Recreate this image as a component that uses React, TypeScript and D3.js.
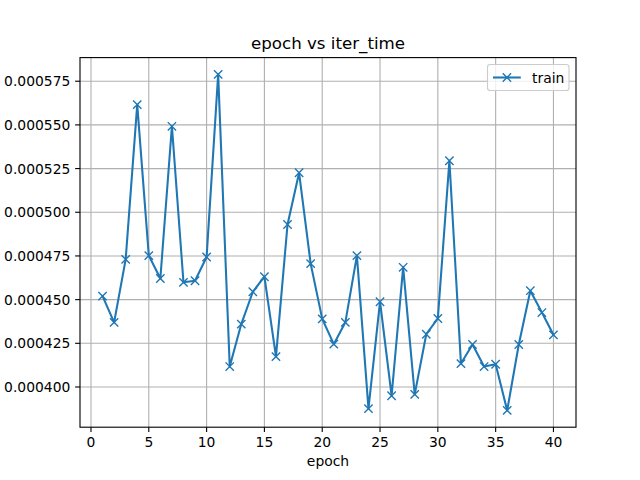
import React from "react";
import * as d3 from "d3";

const epochs: number[] = Array.from({ length: 40 }, (_, i) => i + 1);
const iterTime: number[] = [
  0.000452, 0.000437, 0.000473, 0.0005616, 0.0004752, 0.0004621, 0.0005492, 0.0004599,
  0.0004608, 0.0004744, 0.0005789, 0.0004117, 0.000436, 0.0004545, 0.0004631, 0.0004174,
  0.000493, 0.0005226, 0.0004706, 0.000439, 0.0004245, 0.000437, 0.0004752, 0.0003876,
  0.0004488, 0.000395, 0.0004685, 0.0003958, 0.0004302, 0.0004392, 0.0005295, 0.0004134,
  0.0004243, 0.0004117, 0.000413, 0.0003866, 0.0004243, 0.0004551, 0.0004426, 0.0004298,
];
const xTicks: number[] = [0, 5, 10, 15, 20, 25, 30, 35, 40];
const yTicks: number[] = [0.0004, 0.000425, 0.00045, 0.000475, 0.0005, 0.000525, 0.00055, 0.000575];
const title = "epoch vs iter_time";
const xLabel = "epoch";
const seriesName = "train";

const W = 640, H = 480;
const L = 80, R = 576, T = 57.6, B = 427.2;
const COLOR = "#1f77b4";
const FONT = "DejaVu Sans, sans-serif";

export default function App() {
  const xMin = d3.min(epochs)!, xMax = d3.max(epochs)!;
  const yMin = d3.min(iterTime)!, yMax = d3.max(iterTime)!;
  const xPad = (xMax - xMin) * 0.05, yPad = (yMax - yMin) * 0.05;
  const x = d3.scaleLinear().domain([xMin - xPad, xMax + xPad]).range([L, R]);
  const y = d3.scaleLinear().domain([yMin - yPad, yMax + yPad]).range([B, T]);
  const line = d3.line<number>().x((_, i) => x(epochs[i])).y((d) => y(d));
  const ms = 4.17;
  const xMark = (cx: number, cy: number, key: React.Key) => (
    <path key={key} d={`M${cx - ms},${cy - ms}L${cx + ms},${cy + ms}M${cx - ms},${cy + ms}L${cx + ms},${cy - ms}`}
      stroke={COLOR} strokeWidth={1.39} fill="none" />
  );
  const lgX = 487.5, lgY = 64.5, lgW = 81.5, lgH = 26;
  return (
    <svg width={W} height={H} style={{ position: "absolute", left: 0, top: 0, background: "#fff" }} fontFamily={FONT}>
      <rect x={0} y={0} width={W} height={H} fill="#fff" />
      {xTicks.map((t) => (
        <line key={"gx" + t} x1={x(t)} x2={x(t)} y1={T} y2={B} stroke="#b0b0b0" strokeWidth={1.11} />
      ))}
      {yTicks.map((t) => (
        <line key={"gy" + t} x1={L} x2={R} y1={y(t)} y2={y(t)} stroke="#b0b0b0" strokeWidth={1.11} />
      ))}
      <path d={line(iterTime)!} fill="none" stroke={COLOR} strokeWidth={2.08} strokeLinejoin="round" strokeLinecap="square" />
      {iterTime.map((v, i) => xMark(x(epochs[i]), y(v), i))}
      <rect x={L} y={T} width={R - L} height={B - T} fill="none" stroke="#000" strokeWidth={1.11} />
      {xTicks.map((t) => (
        <g key={"xt" + t}>
          <line x1={x(t)} x2={x(t)} y1={B} y2={B + 4.86} stroke="#000" strokeWidth={1.11} />
          <text x={x(t)} y={B + 9.7} dy="0.76em" textAnchor="middle" fontSize={13.89} fill="#000">{t}</text>
        </g>
      ))}
      {yTicks.map((t) => (
        <g key={"yt" + t}>
          <line x1={L - 4.86} x2={L} y1={y(t)} y2={y(t)} stroke="#000" strokeWidth={1.11} />
          <text x={L - 9.7} y={y(t)} dy="0.36em" textAnchor="end" fontSize={13.89} fill="#000">{t.toFixed(6)}</text>
        </g>
      ))}
      <text x={(L + R) / 2} y={B + 9.7 + 13.89 + 4.86} dy="0.76em" textAnchor="middle" fontSize={13.89} fill="#000">{xLabel}</text>
      <text x={(L + R) / 2} y={T - 8.33} textAnchor="middle" fontSize={16.67} fill="#000">{title}</text>
      <rect x={lgX} y={lgY} width={lgW} height={lgH} rx={2.8} fill="#fff" fillOpacity={0.8} stroke="#cccccc" strokeWidth={1.11} />
      <line x1={lgX + 5.5} x2={lgX + 33.3} y1={lgY + lgH / 2} y2={lgY + lgH / 2} stroke={COLOR} strokeWidth={2.08} />
      {xMark(lgX + 19.4, lgY + lgH / 2, "lg")}
      <text x={lgX + 44.5} y={lgY + lgH / 2} dy="0.36em" fontSize={13.89} fill="#000">{seriesName}</text>
    </svg>
  );
}
